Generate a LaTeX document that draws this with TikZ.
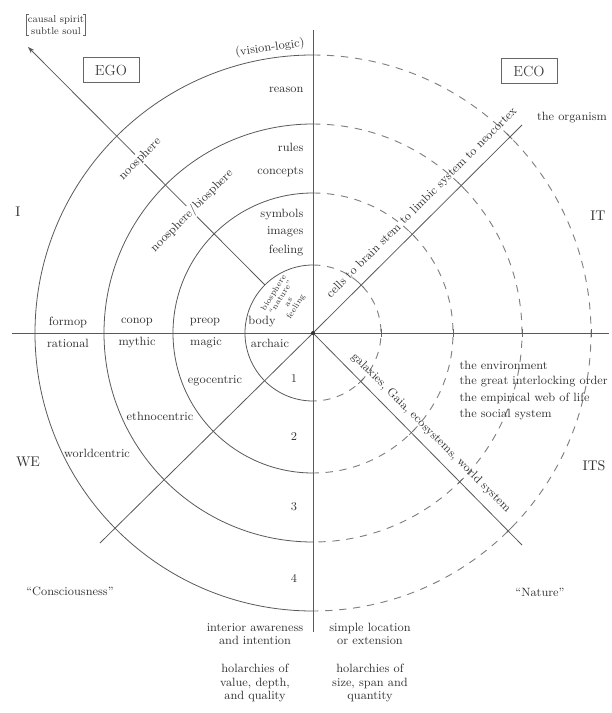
\documentclass[tikz,border=0pt]{standalone}
\usepackage{tikz}
\usetikzlibrary{arrows.meta, positioning, calc}

\begin{document}
\begin{tikzpicture}[
    x=0.75pt, y=0.75pt,
    txt/.style={font=\fontsize{9}{10}\selectfont, text=black!80, inner sep=1pt},
    small/.style={font=\fontsize{7.5}{8.5}\selectfont, text=black!80, inner sep=1pt, align=center},
    quad/.style={font=\fontsize{10.5}{12}\selectfont, text=black!80},
    boxed/.style={draw=black!60, line width=0.6pt, font=\fontsize{11}{12}\selectfont, text=black!75, minimum width=42pt, minimum height=19pt, inner sep=1pt},
    ringline/.style={black!65, line width=0.6pt},
    dashring/.style={black!50, line width=0.7pt, dash pattern=on 5.5pt off 5pt},
    axisline/.style={black!65, line width=0.6pt},
    tickmark/.style={black!60, line width=0.5pt},
    arrow/.style={black!65, line width=0.6pt, -{Stealth[length=5pt, width=3.5pt]}}
]
\useasboundingbox (-313,-380) rectangle (298,333);

% Rings
\foreach \r in {68,140,209,278} {
  \draw[ringline] (0,\r) arc[start angle=90, end angle=270, radius=\r*0.75pt];
  \draw[dashring] (0,\r) arc[start angle=90, end angle=-90, radius=\r*0.75pt];
  \draw[tickmark] (\r,-4) -- (\r,4);
  \draw[tickmark, rotate=45] (\r,-4) -- (\r,4);
  \draw[tickmark, rotate=-45] (\r,-4) -- (\r,4);
}

% Axes
\coordinate (c) at (0,0);
\coordinate (top) at (0,303);
\coordinate (bottom) at (0,-299);
\coordinate (west) at (-301,0);
\coordinate (east) at (296,0);
\coordinate (nooin) at (135:68);
\coordinate (spirit) at (-285,286);
\coordinate (world) at (-213,-210);
\coordinate (neo) at (209,208);
\coordinate (gaia) at (209,-212);

\draw[axisline] (top) -- (bottom);
\draw[axisline] (west) -- (east);
\draw[axisline] (c) -- (world);
\draw[axisline] (c) -- (neo);
\draw[axisline] (c) -- (gaia);
\draw[arrow] (nooin) -- (spirit);
\fill[black!80] (c) circle (1.5pt);

% Corner labels
\node[small] (spiritlbl) at (-257,308) {causal spirit\\subtle soul};
\draw[black!60, line width=0.5pt] ($(spiritlbl.north west)+(3,0)$) -- (spiritlbl.north west) -- (spiritlbl.south west) -- ++(3,0);
\draw[black!60, line width=0.5pt] ($(spiritlbl.north east)+(-3,0)$) -- (spiritlbl.north east) -- (spiritlbl.south east) -- ++(-3,0);
\node[boxed] (ego) at (-202,263) {EGO};
\node[boxed] (eco) at (216,262) {ECO};
\node[quad] (qi) at (-295,121) {I};
\node[quad] (qwe) at (-285,-129) {WE};
\node[quad] (qit) at (285,117) {IT};
\node[quad] (qits) at (281,-133) {ITS};

% Upper left
\node[txt, rotate=8] (vision) at (-43,285) {(vision-logic)};
\node[txt, anchor=east] (reason) at (-8,243) {reason};
\node[txt, anchor=east] (rules) at (-8,186) {rules};
\node[txt, anchor=east] (concepts) at (-8,161) {concepts};
\node[txt, anchor=east] (symbols) at (-8,118) {symbols};
\node[txt, anchor=east] (images) at (-8,101) {images};
\node[txt, anchor=east] (feeling) at (-8,82) {feeling};
\node[small, font=\fontsize{6}{6.5}\selectfont, rotate=58] (bio) at (-28,33) {biosphere\\``nature''\\as\\feeling};
\node[txt, rotate=45, fill=white] (noo) at (-173,174) {noosphere};
\node[txt, rotate=45, fill=white] (noobio) at (-121,122) {noosphere/biosphere};

% Horizontal axis
\node[txt] (formop) at (-245,11) {formop};
\node[txt] (conop) at (-176,11) {conop};
\node[txt] (preop) at (-108,11) {preop};
\node[txt] (body) at (-51,11) {body};
\node[txt] (rational) at (-245,-10) {rational};
\node[txt] (mythic) at (-176,-10) {mythic};
\node[txt] (magic) at (-107,-10) {magic};
\node[txt] (archaic) at (-43,-10) {archaic};

% Lower left
\node[txt] (ego1) at (-98,-48) {egocentric};
\node[txt] (ethno) at (-153,-83) {ethnocentric};
\node[txt] (worldc) at (-216,-120) {worldcentric};
\foreach \n/\y in {1/-46,2/-104,3/-174,4/-245}
  \node[txt] (lvl\n) at (-19,\y) {\n};
\node[txt] (consc) at (-243,-258) {``Consciousness''};

% Right side
\node[txt] (organism) at (259,215) {the organism};
\node[txt, rotate=45] (cells) at (109,130) {cells to brain stem to limbic system to neocortex};
\node[txt, rotate=-45] (galax) at (118,-100) {galaxies, Gaia, ecosystems, world system};
\node[txt, anchor=west] (env) at (145,-32) {the environment};
\node[txt, anchor=west] (order) at (145,-49) {the great interlocking order};
\node[txt, anchor=west] (web) at (145,-65) {the empirical web of life};
\node[txt, anchor=west] (social) at (145,-82) {the social system};
\node[txt] (nature) at (227,-259) {``Nature''};

% Bottom
\node[txt, align=center] (interior) at (-58,-301) {interior awareness\\and intention};
\node[txt, align=center] (holl) at (-58,-350) {holarchies of\\value, depth,\\and quality};
\node[txt, align=center] (simple) at (57,-301) {simple location\\or extension};
\node[txt, align=center] (holr) at (57,-350) {holarchies of\\size, span and\\quantity};

\end{tikzpicture}
\end{document}
